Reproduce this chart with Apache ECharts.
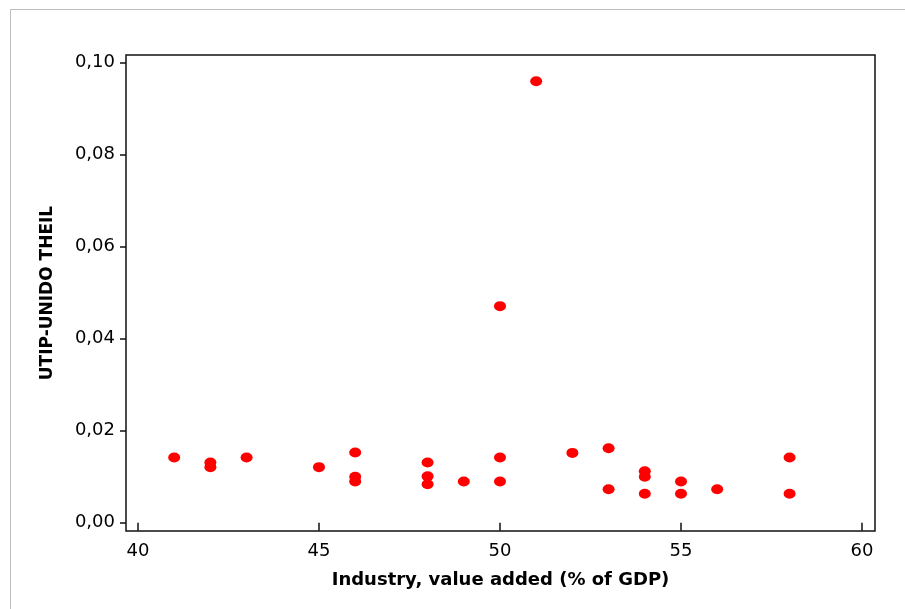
<!DOCTYPE html>
<html>
<head>
<meta charset="utf-8">
<script src="https://cdn.jsdelivr.net/npm/echarts@6/dist/echarts.min.js"></script>
<style>html,body{margin:0;padding:0;background:#fff}#c{width:905px;height:609px}</style>
</head>
<body>
<div id="c"></div>
<script>
var industry = [41, 42, 42, 43, 45, 46, 46, 46, 48, 48, 48, 49, 50, 50, 50, 51, 52, 53, 53, 54, 54, 54, 55, 55, 56, 58, 58];
var theil    = [0.0142, 0.0131, 0.0121, 0.0142, 0.0121, 0.0153, 0.0100, 0.0090, 0.0131, 0.0101, 0.0084, 0.0090,
                0.0471, 0.0142, 0.0090, 0.0960, 0.0152, 0.0162, 0.0073, 0.0112, 0.0100, 0.0063, 0.0090, 0.0063,
                0.0073, 0.0142, 0.0063];
var xTicks = [40, 45, 50, 55, 60];
var yTicks = [0.00, 0.02, 0.04, 0.06, 0.08, 0.10];
var xTitle = 'Industry, value added (% of GDP)';
var yTitle = 'UTIP-UNIDO THEIL';

var points = industry.map(function (v, i) { return [v, theil[i]]; });
var chart = echarts.init(document.getElementById('c'));
var font = 'DejaVu Sans';
chart.setOption({
  animation: false,
  backgroundColor: '#fff',
  graphic: [{
    type: 'rect', silent: true,
    shape: { x: 10.5, y: 9.5, width: 1000, height: 1000 },
    style: { fill: 'none', stroke: '#bdbdbd', lineWidth: 1 }
  }],
  grid: {
    left: 126, right: 30, top: 55, bottom: 78,
    show: true, borderColor: '#111', borderWidth: 1.5, backgroundColor: 'transparent'
  },
  xAxis: {
    type: 'value', min: 39.669, max: 60.359,
    name: xTitle, nameLocation: 'middle', nameGap: 40,
    nameTextStyle: { fontFamily: font, fontWeight: 'bold', fontSize: 18, color: '#000' },
    axisLine: { show: false },
    axisTick: { show: true, length: 8, customValues: xTicks, lineStyle: { color: '#111', width: 1.5 } },
    axisLabel: { customValues: xTicks, margin: 11, fontFamily: font, fontSize: 18, color: '#000' },
    splitLine: { show: false }
  },
  yAxis: {
    type: 'value', min: -0.00178, max: 0.1017,
    name: yTitle, nameLocation: 'middle', nameGap: 70, nameRotate: 90,
    nameTextStyle: { fontFamily: font, fontWeight: 'bold', fontSize: 17, color: '#000' },
    axisLine: { show: false },
    axisTick: { show: true, length: 6, customValues: yTicks, lineStyle: { color: '#111', width: 1.5 } },
    axisLabel: {
      customValues: yTicks, margin: 11, fontFamily: font, fontSize: 18, color: '#000',
      formatter: function (v) { return v.toFixed(2).replace('.', ','); }
    },
    splitLine: { show: false }
  },
  series: [{
    type: 'scatter',
    data: points,
    symbol: 'circle',
    symbolSize: [12, 10],
    itemStyle: { color: '#ff0000', opacity: 1 }
  }]
});
</script>
</body>
</html>
